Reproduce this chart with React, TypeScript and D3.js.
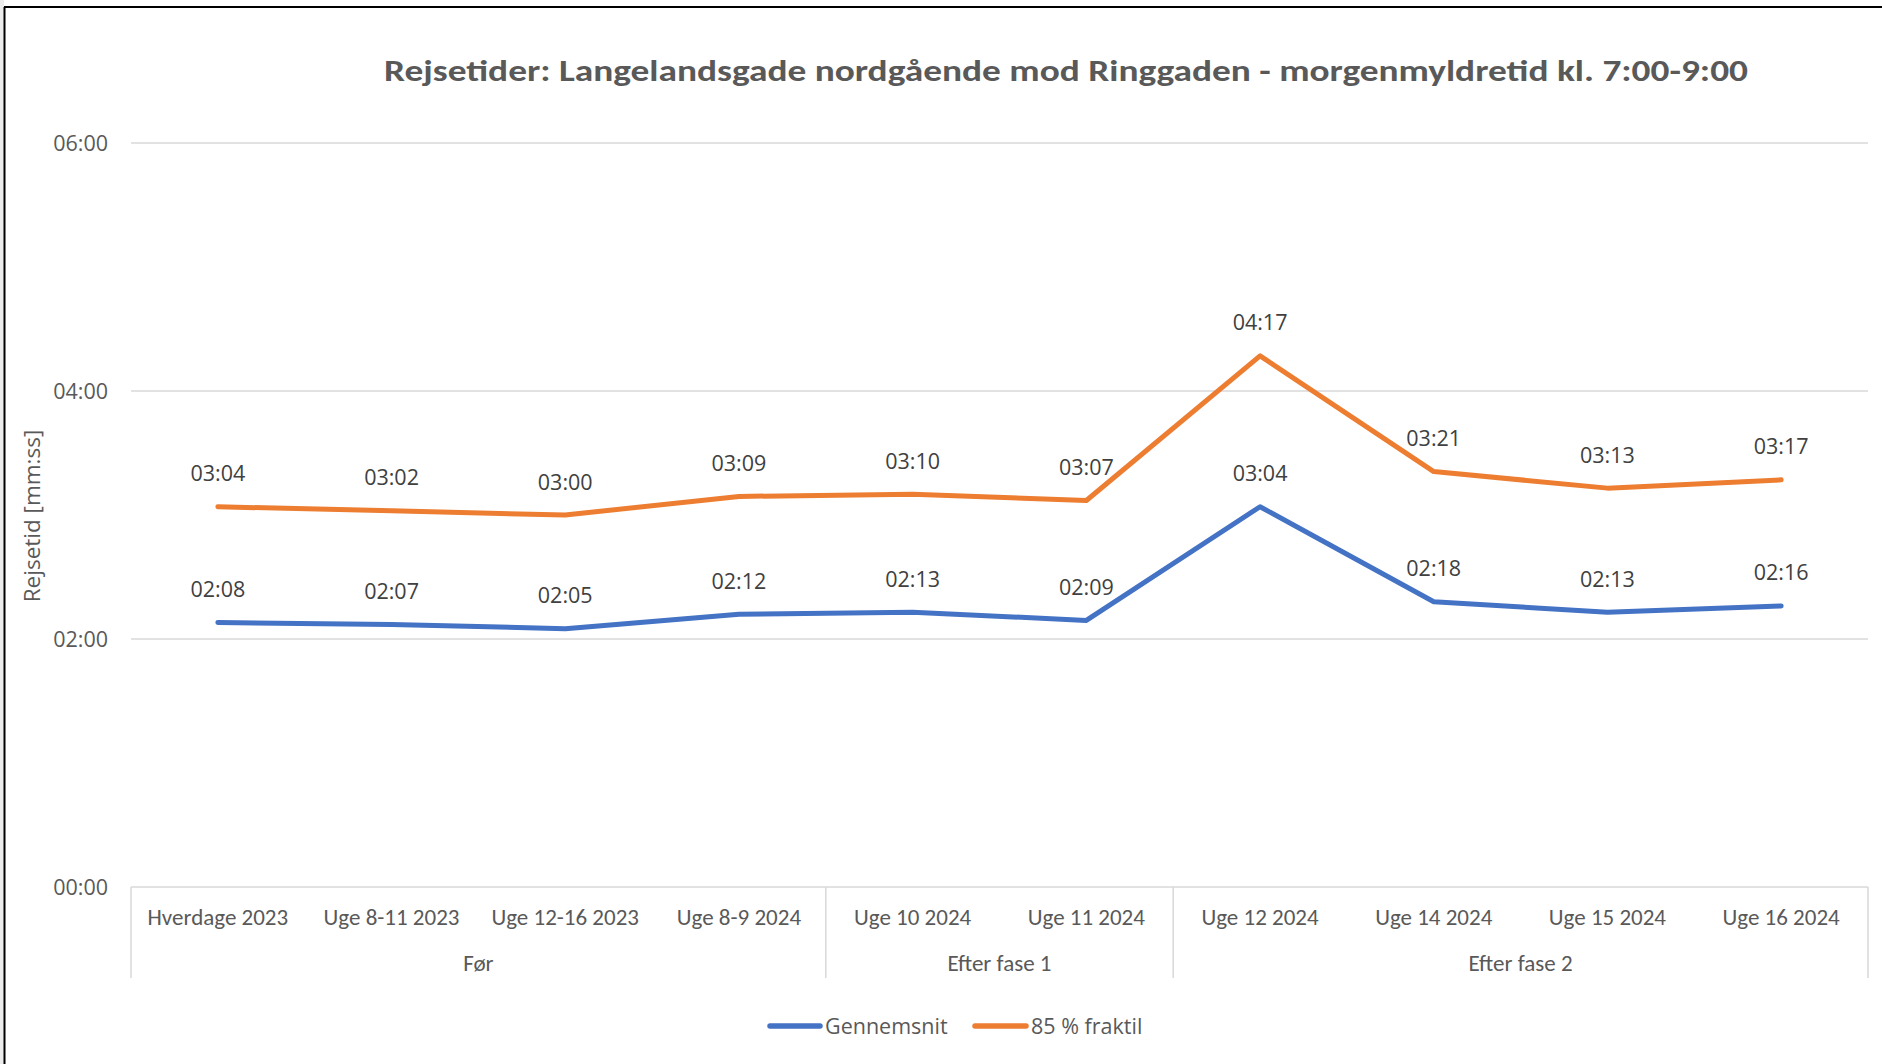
import { useEffect } from 'react';
import * as d3 from 'd3';

// categories (x axis) and the groups they sit in
const categories = [
  'Hverdage 2023', 'Uge 8-11 2023', 'Uge 12-16 2023', 'Uge 8-9 2024',
  'Uge 10 2024', 'Uge 11 2024',
  'Uge 12 2024', 'Uge 14 2024', 'Uge 15 2024', 'Uge 16 2024',
];
const groups = [
  { name: 'Før', start: 0, end: 4 },
  { name: 'Efter fase 1', start: 4, end: 6 },
  { name: 'Efter fase 2', start: 6, end: 10 },
];

// travel times in seconds
const gennemsnit = [128, 127, 125, 132, 133, 129, 184, 138, 133, 136];
const fraktil85 = [184, 182, 180, 189, 190, 187, 257, 201, 193, 197];

const yTicks = [0, 120, 240, 360];

const fmt = (s: number) => {
  const m = Math.floor(s / 60);
  const sec = s % 60;
  return `${String(m).padStart(2, '0')}:${String(sec).padStart(2, '0')}`;
};

const W = 1882;
const H = 1064;
const left = 131;
const right = 1868;
const top = 143;
const bottom = 887;

const NARROW = 'Carlito, Calibri, Lato, sans-serif';
const WIDE = '"Segoe UI", "Open Sans", sans-serif';

const App = () => {
  useEffect(() => {
    document.body.style.margin = '0';
  }, []);

  const x = d3.scaleBand<number>().domain(d3.range(categories.length)).range([left, right]);
  const cx = (i: number) => (x(i) as number) + x.bandwidth() / 2;
  const y = d3.scaleLinear().domain([0, 360]).range([bottom, top]);

  const line = d3.line<number>().x((d, i) => cx(i)).y(d => y(d));

  const series = [
    { name: 'Gennemsnit', values: gennemsnit, color: '#4472C4' },
    { name: '85 % fraktil', values: fraktil85, color: '#ED7D31' },
  ];

  const sepX = [0, 4, 6, 10].map(i => (i < categories.length ? (x(i) as number) : right));

  return (
    <svg width={W} height={H} style={{ position: 'absolute', left: 0, top: 0, background: '#fff' }} fontFamily={WIDE}>
      <rect x={0} y={0} width={4} height={H} fill="#ececec" />
      <line x1={4.5} y1={7} x2={4.5} y2={H} stroke="#000" strokeWidth={2} />
      <line x1={4} y1={7} x2={W} y2={7} stroke="#000" strokeWidth={2} />

      <text x={1066} y={81} textAnchor="middle" fontSize={31} fontWeight="bold" fill="#595959" fontFamily={NARROW}
        textLength={1364} lengthAdjust="spacingAndGlyphs">
        Rejsetider: Langelandsgade nordgående mod Ringgaden - morgenmyldretid kl. 7:00-9:00
      </text>

      {/* gridlines and y ticks */}
      {yTicks.map(t => (
        <g key={t}>
          <line x1={left} x2={right} y1={y(t)} y2={y(t)} stroke="#d9d9d9" strokeWidth={1.5} />
          <text x={108} y={y(t)} dy="0.35em" textAnchor="end" fontSize={21.5} fill="#595959">{fmt(t)}</text>
        </g>
      ))}

      <text transform={`translate(32,${(top + bottom) / 2 + 1}) rotate(-90)`} textAnchor="middle" dy="0.35em" fontSize={22.5} fill="#595959">
        Rejsetid [mm:ss]
      </text>

      {/* category axis */}
      {sepX.map((sx, i) => (
        <line key={i} x1={sx} x2={sx} y1={bottom} y2={978} stroke="#d9d9d9" strokeWidth={1.5} />
      ))}
      {categories.map((c, i) => (
        <text key={c} x={cx(i)} y={917} dy="0.35em" textAnchor="middle" fontSize={23} fill="#595959" fontFamily={NARROW}>{c}</text>
      ))}
      {groups.map(g => (
        <text key={g.name} x={((x(g.start) as number) + (g.end < categories.length ? (x(g.end) as number) : right)) / 2}
          y={963} dy="0.35em" textAnchor="middle" fontSize={23} fill="#595959" fontFamily={NARROW}>{g.name}</text>
      ))}

      {/* lines */}
      {series.map(s => (
        <path key={s.name} d={line(s.values) as string} fill="none" stroke={s.color} strokeWidth={5} strokeLinejoin="round" strokeLinecap="round" />
      ))}
      {series.map(s => s.values.map((v, i) => (
        <text key={s.name + i} x={cx(i)} y={y(v) - 33} dy="0.35em" textAnchor="middle" fontSize={21.5} fill="#404040">{fmt(v)}</text>
      )))}

      {/* legend */}
      <line x1={770} x2={820} y1={1026} y2={1026} stroke="#4472C4" strokeWidth={5.5} strokeLinecap="round" />
      <text x={825} y={1026} dy="0.35em" fontSize={21.5} fill="#595959">Gennemsnit</text>
      <line x1={975} x2={1026} y1={1026} y2={1026} stroke="#ED7D31" strokeWidth={5.5} strokeLinecap="round" />
      <text x={1031} y={1026} dy="0.35em" fontSize={21.5} fill="#595959">85 % fraktil</text>
    </svg>
  );
};

export default App;
